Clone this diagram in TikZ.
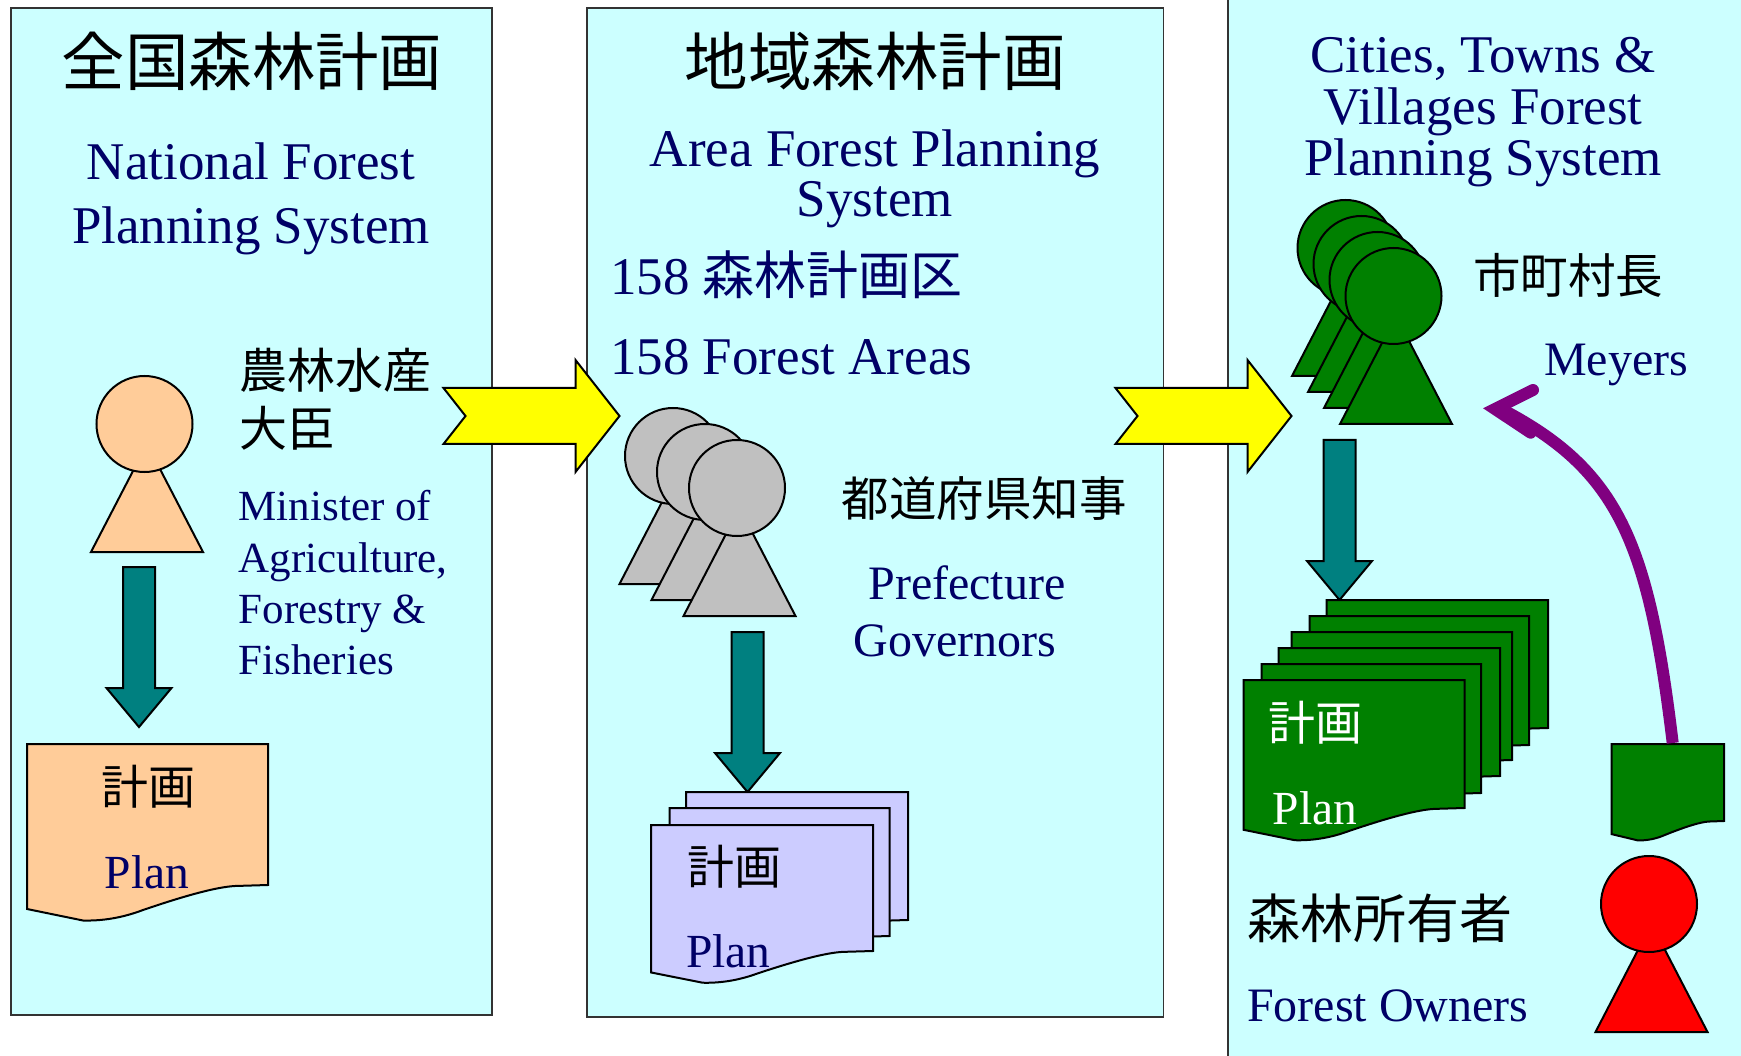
\documentclass[tikz,border=0pt]{standalone}
\usepackage{fontspec}
\setmainfont{Liberation Serif}
\newfontfamily\cjkjp{Noto Sans CJK JP}
\definecolor{panelc}{HTML}{CCFFFF}
\definecolor{navyc}{HTML}{000066}
\definecolor{tealc}{HTML}{008080}
\definecolor{greenc}{HTML}{008000}
\definecolor{orangec}{HTML}{FFCC99}
\definecolor{lavc}{HTML}{CCCCFF}
\definecolor{grayc}{HTML}{C0C0C0}
\definecolor{purplec}{HTML}{800080}
\definecolor{yellowc}{HTML}{FFFF00}
\definecolor{redc}{HTML}{FF0000}
\newcommand\personfig[3]{%
  \draw[shapeline,fill=#1] (#2-56,#3) -- (#2+56,#3) -- (#2,#3-108) -- cycle;
  \draw[shapeline,fill=#1] (#2-2.5,#3-128) circle (48);}
\newcommand\docfig[5]{%
  \begin{scope}[shift={(#1,#3)},xscale={(#2-#1)/241},yscale={(#4-#3)/141}]
  \draw[shapeline,fill=#5] (0,0) -- (241,0) -- (241,141) -- (208,142) .. controls (190,143) and (160,151) .. (116,166) .. controls (95,174) and (75,177) .. (56,176.5) -- (0,165) -- cycle;
  \end{scope}}
\newcommand\yellowarrow[1]{%
  \begin{scope}[shift={(#1,0)}]
  \draw[shapeline,fill=yellowc,line join=miter] (0,388) -- (132,388) -- (132,360) -- (176,416) -- (132,472) -- (132,444) -- (0,444) -- (22,416) -- cycle;
  \end{scope}}
\newcommand\tealarrow[2]{%
  \begin{scope}[shift={(#1,#2)}]
  \draw[shapeline,fill=tealc,line join=miter] (-16,0) -- (16,0) -- (16,121) -- (32.5,121) -- (0,160) -- (-32.5,121) -- (-16,121) -- cycle;
  \end{scope}}
\tikzset{
  x=1pt,y=-1pt,
  shapeline/.style={draw=black,line width=2pt},
  panel/.style={fill=panelc,draw=black!80,line width=1.6pt,inner sep=0pt,outer sep=0pt},
  en/.style={font=\rmfamily\fontsize{#1}{#1}\selectfont,text=navyc,inner sep=0pt},
  jp/.style={font=\cjkjp\fontsize{#1}{#1}\selectfont,text=black,inner sep=0pt},
  purpleline/.style={draw=purplec,line width=12pt},
}
\begin{document}
\begin{tikzpicture}
\useasboundingbox (0,0) rectangle (1741,1056);
\fill[white] (0,0) rectangle (1741,1056);
% panels
\node[panel,minimum width=481pt,minimum height=1007pt] (panelA) at (251.5,511.5) {};
\node[panel,minimum width=576.5pt,minimum height=1009pt] (panelB) at (875.3,512.5) {};
\fill[panelc] (1228,0) rectangle (1741,1056);
\draw[black!80,line width=1.6pt] (1228,0) -- (1228,1056);
% yellow arrows
\yellowarrow{443.5}
\yellowarrow{1115.5}
% panel A
\node[jp=63.5] (titleA) at (252,61) {全国森林計画};
\node[en=53,align=center,font=\rmfamily\fontsize{53}{64}\selectfont] (subA) at (251,198.5) {National Forest\\Planning System};
\personfig{orangec}{147}{552}
\node[jp=48,align=left,anchor=west,font=\cjkjp\fontsize{48}{58}\selectfont] (minjp) at (239.5,399.5) {農林水産\\大臣};
\node[en=43,align=left,anchor=west,font=\rmfamily\fontsize{43}{51.3}\selectfont] (minen) at (238.5,583) {Minister of\\Agriculture,\\Forestry \&\\Fisheries};
\tealarrow{139}{567}
\docfig{27}{268}{744}{885}{orangec}
\node[jp=47] (planjpA) at (148,787) {計画};
\node[en=47.5] (planenA) at (147,872) {Plan};
% panel B
\node[jp=63.5] (titleB) at (875,61) {地域森林計画};
\node[align=center,en=53,font=\rmfamily\fontsize{53}{50}\selectfont] (subB) at (875,178.5) {Area Forest Planning\\System};
\node[anchor=west,en=53] (num) at (610,275) {158 {\cjkjp\fontsize{52}{52}\selectfont 森林計画区}};
\node[anchor=west,en=53] (areas) at (610,357) {158 Forest Areas};
\personfig{grayc}{675.5}{584}
\personfig{grayc}{707.5}{600}
\personfig{grayc}{739.5}{616}
\node[jp=47.5] (govjp) at (984,498) {都道府県知事};
\node[en=48] (prefen) at (967,583) {Prefecture};
\node[en=48] (goven) at (955,641) {Governors};
\tealarrow{747.5}{632}
\docfig{686}{908}{792}{920}{lavc}
\docfig{669.5}{889.5}{808}{936}{lavc}
\docfig{651}{873}{825}{951}{lavc}
\node[jp=47] (planjpB) at (734,867) {計画};
\node[en=47.5] (planenB) at (728.5,951) {Plan};
% panel C
\node[align=center,en=53,font=\rmfamily\fontsize{53}{51.5}\selectfont] (subC) at (1483,112.5) {Cities, Towns \&\\Villages Forest\\Planning System};
\personfig{greenc}{1348}{376}
\personfig{greenc}{1364}{392}
\personfig{greenc}{1380}{408}
\personfig{greenc}{1396}{424}
\node[jp=47.5] (mayorjp) at (1568,275) {市町村長};
\node[en=48] (mayoren) at (1616,365) {Meyers};
\tealarrow{1339.5}{440}
\docfig{1326.5}{1548}{600}{728}{greenc}
\docfig{1309.5}{1529}{616}{745}{greenc}
\docfig{1291.5}{1512}{632}{760}{greenc}
\docfig{1278.5}{1500}{648}{776}{greenc}
\docfig{1261.5}{1481}{664}{793}{greenc}
\docfig{1243.5}{1464.5}{680}{808}{greenc}
\node[jp=47,text=white] (planjpC) at (1315,723) {計画};
\node[en=47.5,text=white] (planenC) at (1315,808) {Plan};
\docfig{1611.5}{1724}{744}{821}{greenc}
\coordinate (pstart) at (1672.7,743);
\coordinate (pend) at (1503,410);
\coordinate (pbend) at (1495,409);
\coordinate (parmA) at (1533,390);
\coordinate (parmB) at (1530.7,432.7);
\draw[purpleline] (pstart) .. controls (1648.7,543) and (1619,471) .. (pend);
\draw[purpleline,line cap=round,line join=miter] (parmA) -- (pbend) -- (parmB);
\personfig{redc}{1651.5}{1032}
\node[jp=53] (ownerjp) at (1380,918) {森林所有者};
\node[anchor=west,en=48] (owneren) at (1247,1006) {Forest Owners};
\end{tikzpicture}
\end{document}
